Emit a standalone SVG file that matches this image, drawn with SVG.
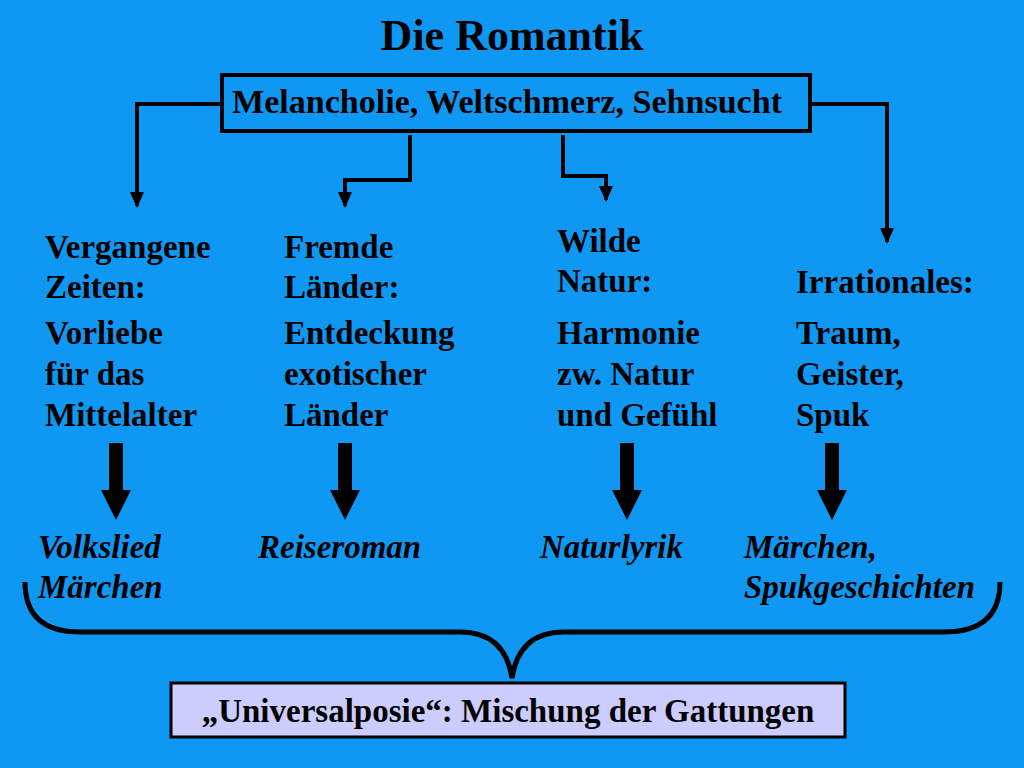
<svg xmlns="http://www.w3.org/2000/svg" width="1024" height="768" viewBox="0 0 1024 768">
<defs>
<style>
text{font-family:"Liberation Serif","Times New Roman",serif;font-weight:bold;fill:#000}
.b{font-size:33px}
.i{font-size:33px;font-style:italic}
.ln{fill:none;stroke:#000;stroke-width:4}
</style>
<marker id="ah2" markerWidth="14" markerHeight="16" refX="7" refY="14" viewBox="0 0 14 16" orient="0" markerUnits="userSpaceOnUse"><path d="M0,0 L14,0 L7,16 Z" fill="#000"/></marker>
</defs>
<rect width="1024" height="768" fill="#0F97F4"/>
<text x="512" y="50" text-anchor="middle" font-size="44">Die Romantik</text>
<g id="top">
<rect x="222" y="75" width="588" height="56" fill="none" stroke="#000" stroke-width="4"/>
<text class="b" x="232" y="113" textLength="550" lengthAdjust="spacingAndGlyphs">Melancholie, Weltschmerz, Sehnsucht</text>
</g>
<g id="connectors">
<path class="ln" d="M222,104 H137 V206" marker-end="url(#ah2)"/>
<path class="ln" d="M410,135 V180 H345 V206" marker-end="url(#ah2)"/>
<path class="ln" d="M563,135 V176 H606 V200" marker-end="url(#ah2)"/>
<path class="ln" d="M810,104 H887 V242" marker-end="url(#ah2)"/>
<g fill="#000">
<path d="M109,443 H123 V490 H131 L116,520 L101,490 H109 Z"/>
<path d="M338,443 H352 V490 H360 L345,520 L330,490 H338 Z"/>
<path d="M620,443 H634 V490 H642 L627,520 L612,490 H620 Z"/>
<path d="M825,443 H839 V490 H847 L832,520 L817,490 H825 Z"/>
</g>
<path d="M25,582 Q25,632 80,632 H460 Q505,632 512,678 Q519,632 564,632 H944 Q1000,632 1000,582" fill="none" stroke="#000" stroke-width="5"/>
</g>
<g id="n1"><text class="b" x="45" y="258">Vergangene</text><text class="b" x="45" y="298">Zeiten:</text><text class="b" x="45" y="344">Vorliebe</text><text class="b" x="45" y="385">für das</text><text class="b" x="45" y="426">Mittelalter</text></g>
<g id="n2"><text class="b" x="284" y="258">Fremde</text><text class="b" x="284" y="298">Länder:</text><text class="b" x="284" y="344">Entdeckung</text><text class="b" x="284" y="385">exotischer</text><text class="b" x="284" y="426">Länder</text></g>
<g id="n3"><text class="b" x="557" y="252">Wilde</text><text class="b" x="557" y="292">Natur:</text><text class="b" x="557" y="344">Harmonie</text><text class="b" x="557" y="385">zw. Natur</text><text class="b" x="557" y="426">und Gefühl</text></g>
<g id="n4"><text class="b" x="796" y="293">Irrationales:</text><text class="b" x="796" y="344">Traum,</text><text class="b" x="796" y="385">Geister,</text><text class="b" x="796" y="426">Spuk</text></g>
<g id="g1"><text class="i" x="38" y="558">Volkslied</text><text class="i" x="38" y="598">Märchen</text></g>
<g id="g2"><text class="i" x="258" y="558">Reiseroman</text></g>
<g id="g3"><text class="i" x="540" y="558">Naturlyrik</text></g>
<g id="g4"><text class="i" x="744" y="558">Märchen,</text><text class="i" x="744" y="598">Spukgeschichten</text></g>
<g id="bottom">
<rect x="171" y="683" width="674" height="54" fill="#CCCCFF" stroke="#000" stroke-width="3"/>
<text class="b" x="508" y="722" text-anchor="middle">„Universalposie“:  Mischung der Gattungen</text>
</g>
</svg>
